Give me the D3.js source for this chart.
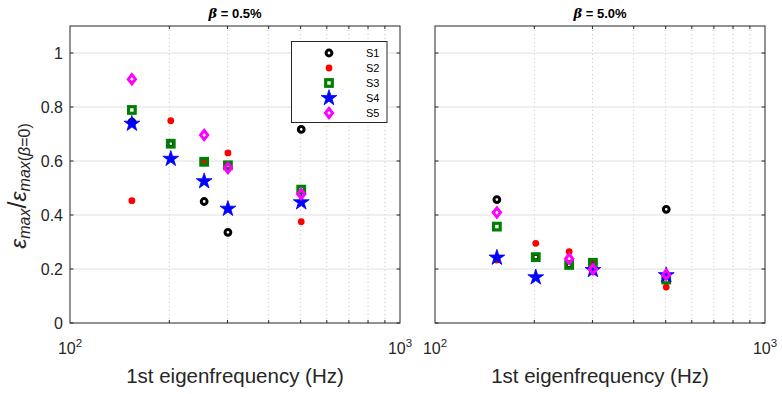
<!DOCTYPE html>
<html><head><meta charset="utf-8">
<script src="https://cdn.jsdelivr.net/npm/d3@7"></script>
<style>body{margin:0;background:#fff}svg{display:block}text{font-family:"Liberation Sans",Arial,sans-serif}</style>
</head><body><svg id="c" width="782" height="394"></svg>
<script>
const freqs = [154, 202, 255, 301, 502];
const seriesNames = ["S1","S2","S3","S4","S5"];
// beta = 0.5%
const left_S1 = [0.744, 0.664, 0.450, 0.336, 0.717];
const left_S2 = [0.453, 0.749, 0.597, 0.630, 0.375];
const left_S3 = [0.789, 0.664, 0.597, 0.584, 0.494];
const left_S4 = [0.738, 0.608, 0.525, 0.423, 0.447];
const left_S5 = [0.903, null, 0.696, 0.574, 0.478];
// beta = 5.0%
const right_S1 = [0.457, 0.244, 0.215, 0.223, 0.421];
const right_S2 = [0.233, 0.295, 0.264, 0.220, 0.133];
const right_S3 = [0.357, 0.244, 0.215, 0.223, 0.161];
const right_S4 = [0.242, 0.169, null, 0.196, 0.177];
const right_S5 = [0.409, null, 0.238, 0.199, 0.179];
const titles = ["0.5%", "5.0%"];
const yTicks = [0, 0.2, 0.4, 0.6, 0.8, 1];

const svg = d3.select("#c");
const panels = [
  {x0:70, x1:400, title:titles[0], data:[left_S1,left_S2,left_S3,left_S4,left_S5], ylabels:true},
  {x0:435, x1:765, title:titles[1], data:[right_S1,right_S2,right_S3,right_S4,right_S5], ylabels:false}
];
const plotTop = 26, plotBot = 323;
const y = d3.scaleLinear().domain([0,1.1]).range([plotBot, plotTop]);

const styles = ["circle","dot","square","star","diamond"];
function drawMarker(g, kind, cx, cy){
  if(kind==="circle"){
    g.append("circle").attr("cx",cx).attr("cy",cy).attr("r",2.9).attr("fill","none").attr("stroke","#000").attr("stroke-width",3);
  } else if(kind==="dot"){
    g.append("circle").attr("cx",cx).attr("cy",cy).attr("r",3.4).attr("fill","#ff0000");
  } else if(kind==="square"){
    g.append("rect").attr("x",cx-3.3).attr("y",cy-3.3).attr("width",6.6).attr("height",6.6).attr("fill","none").attr("stroke","#008000").attr("stroke-width",3.2);
  } else if(kind==="star"){
    g.append("path").attr("transform",`translate(${cx},${cy})`).attr("d",d3.symbol(d3.symbolStar,78)()).attr("fill","#0000ff").attr("stroke","#0000ff").attr("stroke-width",0.8);
  } else if(kind==="diamond"){
    g.append("path").attr("d",`M${cx},${cy-4.6}L${cx+3.6},${cy}L${cx},${cy+4.6}L${cx-3.6},${cy}Z`).attr("fill","none").attr("stroke","#ff00ff").attr("stroke-width",3);
  }
}

panels.forEach(p=>{
  const x = d3.scaleLog().domain([100,1000]).range([p.x0,p.x1]);
  const g = svg.append("g");
  const minor = d3.range(200,1000,100);
  g.selectAll(".vg").data(minor).enter().append("line")
    .attr("x1",d=>x(d)).attr("x2",d=>x(d)).attr("y1",plotTop).attr("y2",plotBot)
    .attr("stroke","#c8c8c8").attr("stroke-width",1).attr("stroke-dasharray","1,3");
  g.selectAll(".hg").data(yTicks.filter(d=>d>0)).enter().append("line")
    .attr("x1",p.x0).attr("x2",p.x1).attr("y1",d=>y(d)).attr("y2",d=>y(d))
    .attr("stroke","#e0e0e0").attr("stroke-width",1);
  g.append("rect").attr("x",p.x0).attr("y",plotTop).attr("width",p.x1-p.x0).attr("height",plotBot-plotTop)
    .attr("fill","none").attr("stroke","#262626").attr("stroke-width",1);
  minor.forEach(d=>{
    g.append("line").attr("x1",x(d)).attr("x2",x(d)).attr("y1",plotBot).attr("y2",plotBot-3).attr("stroke","#262626");
    g.append("line").attr("x1",x(d)).attr("x2",x(d)).attr("y1",plotTop).attr("y2",plotTop+3).attr("stroke","#262626");
  });
  yTicks.forEach(d=>{
    g.append("line").attr("x1",p.x0).attr("x2",p.x0+3.5).attr("y1",y(d)).attr("y2",y(d)).attr("stroke","#262626");
    g.append("line").attr("x1",p.x1).attr("x2",p.x1-3.5).attr("y1",y(d)).attr("y2",y(d)).attr("stroke","#262626");
  });
  if(p.ylabels){
    g.selectAll(".yl").data(yTicks).enter().append("text")
      .attr("x",p.x0-7).attr("y",d=>y(d)+5.8).attr("text-anchor","end")
      .attr("font-size",16).attr("fill","#262626").text(d=>d===0||d===1?String(d):d.toFixed(1));
  }
  [[100,"2"],[1000,"3"]].forEach(([v,e])=>{
    const t = g.append("text").attr("x",x(v)).attr("y",354).attr("text-anchor","middle").attr("font-size",16).attr("fill","#262626");
    t.append("tspan").text("10");
    t.append("tspan").attr("dy",-7).attr("font-size",11.5).text(e);
  });
  g.append("text").attr("x",(p.x0+p.x1)/2).attr("y",383).attr("text-anchor","middle")
    .attr("font-size",20.5).attr("fill","#262626").text("1st eigenfrequency (Hz)");
  const tt = g.append("text").attr("x",(p.x0+p.x1)/2).attr("y",18).attr("text-anchor","middle")
    .attr("font-size",13).attr("font-weight","bold").attr("fill","#000");
  tt.append("tspan").attr("font-family","'DejaVu Serif',serif").attr("font-style","italic").text("β");
  tt.append("tspan").text(" = "+p.title);
  p.data.forEach((vals,si)=>{
    vals.forEach((v,i)=>{ if(v!==null) drawMarker(g, styles[si], x(freqs[i]), y(v)); });
  });
  if(p.ylabels){
    const lg = svg.append("g");
    lg.append("rect").attr("x",291.5).attr("y",41.5).attr("width",95.5).attr("height",81)
      .attr("fill","#fff").attr("stroke","#262626").attr("stroke-width",1);
    seriesNames.forEach((s,i)=>{
      const yy = 53 + i*15;
      drawMarker(lg, styles[i], 329, yy);
      lg.append("text").attr("x",366).attr("y",yy+4).attr("text-anchor","start").attr("font-size",11).attr("fill","#000").text(s);
    });
  }
});
const yl = svg.append("text").attr("transform","translate(25.5,186) rotate(-90)").attr("text-anchor","middle")
  .attr("font-family","'Liberation Serif','DejaVu Serif',serif").attr("font-style","italic").attr("fill","#262626").attr("font-size",23);
yl.append("tspan").text("ε");
yl.append("tspan").attr("font-size",16).attr("dy",4).text("max");
yl.append("tspan").attr("font-size",25).attr("dy",-4).attr("font-style","normal").text("/");
yl.append("tspan").text("ε");
yl.append("tspan").attr("font-size",16).attr("dy",4).text("max");
yl.append("tspan").attr("font-size",16).attr("font-style","normal").text("(");
yl.append("tspan").attr("font-size",16).text("β");
yl.append("tspan").attr("font-size",16).attr("font-style","normal").text("=0)");
</script></body></html>
